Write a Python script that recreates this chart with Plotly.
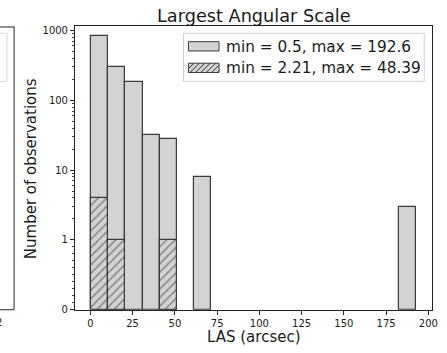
import math
import plotly.graph_objects as go

# ---- data ----
bin_min = 0.5
bin_max = 192.6
n_bins = 19
all_counts = [820, 300, 184, 32, 28, 0, 8, 0, 0, 0, 0, 0, 0, 0, 0, 0, 0, 0, 3]
sub_counts = [4, 1, 0, 0, 1, 0, 0, 0, 0, 0, 0, 0, 0, 0, 0, 0, 0, 0, 0]
label_all = "min = 0.5, max = 192.6"
label_sub = "min = 2.21, max = 48.39"
y_tick_labels = ["0", "1", "10", "100", "1000"]
x_tick_vals = [0, 25, 50, 75, 100, 125, 150, 175, 200]

W, H = 447, 353
def X(px): return px / W
def Y(py): return 1 - py / H

def symlog(v):
    if v is None:
        return None
    return v if v <= 1 else 1 + math.log10(v)

width = (bin_max - bin_min) / n_bins
centers = [bin_min + width * (i + 0.5) for i in range(n_bins)]

def tr(counts):
    return [symlog(c) if c > 0 else None for c in counts]

FILL = "#d3d3d3"
EDGE = "#3a3a3a"
HATCH = "#333333"
FONT = "DejaVu Sans"
TXT = "#1a1a1a"

fig = go.Figure()
fig.add_trace(go.Bar(x=centers, y=tr(all_counts), width=width,
                     marker=dict(color=FILL, line=dict(color=EDGE, width=1.2)),
                     name=label_all, showlegend=False))
fig.add_trace(go.Bar(x=centers, y=tr(sub_counts), width=width,
                     marker=dict(color=FILL, line=dict(color=EDGE, width=1.2),
                                 pattern=dict(shape="/", fgcolor=HATCH, bgcolor=FILL,
                                              size=6, solidity=0.25)),
                     name=label_sub, showlegend=False))

minor_vals = [i / 10 for i in range(1, 10)]
for d in range(0, 3):
    for k in range(2, 10):
        minor_vals.append(1 + d + math.log10(k))

fig.update_layout(
    width=W, height=H, margin=dict(l=0, r=0, t=0, b=0),
    paper_bgcolor="white", plot_bgcolor="white",
    barmode="overlay", bargap=0,
    font=dict(family=FONT, color=TXT),
    xaxis=dict(domain=[X(76), X(438)], range=[bin_min - 0.05 * (bin_max - bin_min), bin_max + 0.05 * (bin_max - bin_min)],
               tickvals=x_tick_vals, ticks="outside", ticklen=4, tickcolor="#222",
               showline=True, linecolor="#222", linewidth=1, mirror=True,
               showgrid=False, zeroline=False, tickfont=dict(size=10)),
    yaxis=dict(domain=[Y(315), Y(25.5)], range=[0, 4.063],
               tickvals=[0, 1, 2, 3, 4], ticktext=y_tick_labels,
               ticks="outside", ticklen=4, tickcolor="#222",
               minor=dict(tickvals=minor_vals, ticks="outside", ticklen=2, tickcolor="#444"),
               showline=True, linecolor="#222", linewidth=1, mirror=True,
               showgrid=False, zeroline=False, tickfont=dict(size=10)),
)

shapes = []
anns = []
# custom legend
shapes.append(dict(type="rect", xref="paper", yref="paper", x0=X(186), x1=X(430), y0=Y(82), y1=Y(33),
                   line=dict(color="#d0d0d0", width=1), fillcolor="rgba(255,255,255,0.8)", layer="above"))
p1 = (191, 222, 41.5, 51)
p2 = (191, 222, 63.5, 73)
for (x0, x1, y0, y1) in (p1, p2):
    shapes.append(dict(type="rect", xref="paper", yref="paper", x0=X(x0), x1=X(x1), y0=Y(y1), y1=Y(y0),
                       line=dict(color=EDGE, width=1), fillcolor=FILL, layer="above"))
# hatch for second patch
x0, x1, y0, y1 = p2
h = y1 - y0
step = 5.5
s = x0 - h
while s < x1:
    ax, ay, bx, by = s, y1, s + h, y0
    if ax < x0:
        ay = y1 - (x0 - ax); ax = x0
    if bx > x1:
        by = y0 + (bx - x1); bx = x1
    if bx > ax:
        shapes.append(dict(type="line", xref="paper", yref="paper", x0=X(ax), y0=Y(ay), x1=X(bx), y1=Y(by),
                           line=dict(color=HATCH, width=1), layer="above"))
    s += step
anns.append(dict(text=label_all, xref="paper", yref="paper", x=X(227), y=Y(46.5), xanchor="left", yanchor="middle",
                 showarrow=False, font=dict(size=15.3, family=FONT, color=TXT)))
anns.append(dict(text=label_sub, xref="paper", yref="paper", x=X(227), y=Y(68.5), xanchor="left", yanchor="middle",
                 showarrow=False, font=dict(size=15.3, family=FONT, color=TXT)))
# title and axis labels
anns.append(dict(text="Largest Angular Scale", xref="paper", yref="paper", x=X(257), y=Y(15), xanchor="center",
                 yanchor="middle", showarrow=False, font=dict(size=17.7, family=FONT, color=TXT)))
anns.append(dict(text="LAS (arcsec)", xref="paper", yref="paper", x=X(257.5), y=Y(343), xanchor="center",
                 yanchor="middle", showarrow=False, font=dict(size=15, family=FONT, color=TXT)))
anns.append(dict(text="Number of observations", xref="paper", yref="paper", x=X(31), y=Y(171), xanchor="center",
                 yanchor="middle", textangle=-90, showarrow=False, font=dict(size=15, family=FONT, color=TXT)))
# neighbouring panel remnants at left edge
shapes.append(dict(type="rect", xref="paper", yref="paper", x0=X(-20), x1=X(14.3), y0=Y(315), y1=Y(26.5),
                   line=dict(color="#222", width=1), fillcolor="rgba(0,0,0,0)"))
shapes.append(dict(type="rect", xref="paper", yref="paper", x0=X(-60), x1=X(7), y0=Y(82), y1=Y(33),
                   line=dict(color="#d8d8d8", width=1), fillcolor="rgba(0,0,0,0)"))
anns.append(dict(text="2", xref="paper", yref="paper", x=X(4), y=Y(328), xanchor="right", yanchor="middle",
                 showarrow=False, font=dict(size=10, family=FONT, color=TXT)))

fig.update_layout(shapes=shapes, annotations=anns)
fig.write_html("out.html")
